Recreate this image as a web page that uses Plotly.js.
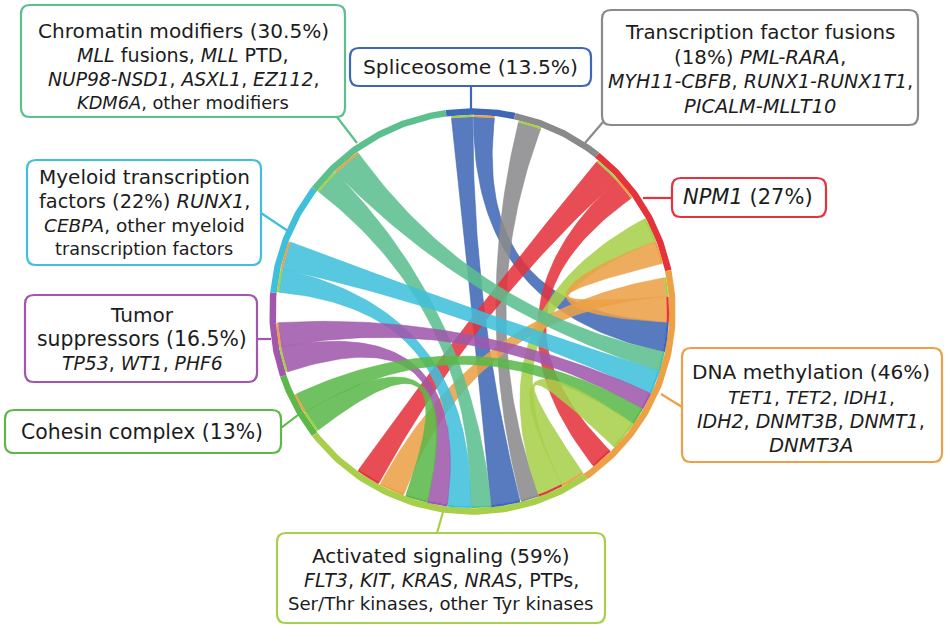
<!DOCTYPE html>
<html>
<head>
<meta charset="utf-8">
<script src="https://cdn.plot.ly/plotly-3.0.1.min.js"></script>
<style>
html,body{margin:0;padding:0;background:#fff;}
#chart{width:946px;height:630px;}
</style>
</head>
<body>
<div id="chart"></div>
<script>
// ---- data ----
var categories = ["Spliceosome", "Transcription factor fusions", "NPM1", "DNA methylation",
  "Activated signaling", "Cohesin complex", "Tumor suppressors", "Myeloid transcription factors", "Chromatin modifiers"];
var percents = [13.5, 18, 27, 46, 59, 13, 16.5, 22, 30.5];
var colors = ["#3f67b7", "#8a8a8c", "#e5333c", "#eca146", "#a8cf4a", "#5bb849", "#a057ac", "#3fbfdb", "#5cbf8e"];

// links: ends given as offsets (in % units) within each category's arc
var linkFrom      = [0, 0, 1, 2, 2, 4, 3, 3, 8, 8, 7, 7, 6, 6, 5, 5, 4];
var linkFromStart = [0.95, 5.4, 1.0, 0.75, 6.2, 4.85, 5.05, 1.25, 5.3, 0.15, 4.9, 0.2, 5.7, 0.5, 4.65, 0.2, 0.0];
var linkFromEnd   = [5.25, 9.6, 5.65, 6.2, 10.85, 9.95, 10.2, 5.05, 11.3, 5.3, 10.55, 4.9, 10.55, 5.7, 8.7, 4.65, 4.85];
var linkTo        = [4, 3, 4, 4, 3, 2, 2, 4, 3, 4, 3, 4, 3, 4, 3, 4, 3];
var linkToStart   = [13.85, 10.2, 9.95, 42.95, 39.0, 15.75, 20.75, 37.45, 16.2, 19.7, 20.1, 23.8, 24.9, 28.5, 28.4, 32.55, 31.9];
var linkToEnd     = [19.7, 16.15, 13.65, 47.8, 43.5, 20.75, 25.35, 42.6, 20.1, 23.8, 24.9, 28.5, 28.4, 32.55, 31.9, 37.05, 37.9];

// ---- geometry ----
var CX = 472.5, CY = 311.5;
var R_RING = 200, RING_W = 6.5, R_MARK = 195.5, R_RIB = 194.5;
var START = -7.6;
var total = percents.reduce(function(a, b){ return a + b; }, 0);
var degPer = 360 / total;
var cum = [];
(function(){ var c = 0; for (var i = 0; i < percents.length; i++){ cum.push(c); c += percents[i]; } })();

function ang(cat, off){ return START + (cum[cat] + off) * degPer; }
function pt(theta, r){ var t = theta * Math.PI / 180; return [CX + r * Math.sin(t), CY - r * Math.cos(t)]; }
function arc(t1, t2, r, n){
  var xs = [], ys = [];
  for (var i = 0; i <= n; i++){ var p = pt(t1 + (t2 - t1) * i / n, r); xs.push(p[0]); ys.push(p[1]); }
  return [xs, ys];
}
function bez(p0, p2, n){
  var xs = [], ys = [];
  for (var i = 0; i <= n; i++){
    var t = i / n, a = (1 - t) * (1 - t), b = 2 * (1 - t) * t, c = t * t;
    xs.push(a * p0[0] + b * CX + c * p2[0]);
    ys.push(a * p0[1] + b * CY + c * p2[1]);
  }
  return [xs, ys];
}
function hexA(h, a){
  var r = parseInt(h.substr(1,2),16), g = parseInt(h.substr(3,2),16), b = parseInt(h.substr(5,2),16);
  return "rgba(" + r + "," + g + "," + b + "," + a + ")";
}

var traces = [];

// ribbons
for (var k = 0; k < linkFrom.length; k++){
  var a1 = ang(linkFrom[k], linkFromStart[k]), a2 = ang(linkFrom[k], linkFromEnd[k]);
  var b1 = ang(linkTo[k], linkToStart[k]), b2 = ang(linkTo[k], linkToEnd[k]);
  var s1 = arc(a1, a2, R_RIB, 20);
  var s2 = bez(pt(a2, R_RIB), pt(b1, R_RIB), 60);
  var s3 = arc(b1, b2, R_RIB, 20);
  var s4 = bez(pt(b2, R_RIB), pt(a1, R_RIB), 60);
  var xs = [].concat(s1[0], s2[0], s3[0], s4[0]);
  var ys = [].concat(s1[1], s2[1], s3[1], s4[1]);
  var col = colors[linkFrom[k]];
  traces.push({type: "scatter", mode: "lines", x: xs, y: ys, fill: "toself",
    fillcolor: hexA(col, 0.87), line: {color: hexA(col, 0.95), width: 0.6},
    hoverinfo: "skip", showlegend: false});
}

// ring segments
for (var i = 0; i < categories.length; i++){
  var s = arc(ang(i, 0), ang(i, percents[i]), R_RING, 60);
  traces.push({type: "scatter", mode: "lines", x: s[0], y: s[1],
    line: {color: colors[i], width: RING_W}, hoverinfo: "skip", showlegend: false});
}

// partner marks at ribbon ends
for (var k2 = 0; k2 < linkFrom.length; k2++){
  var m1 = arc(ang(linkFrom[k2], linkFromStart[k2]), ang(linkFrom[k2], linkFromEnd[k2]), R_MARK, 12);
  traces.push({type: "scatter", mode: "lines", x: m1[0], y: m1[1],
    line: {color: colors[linkTo[k2]], width: 2.2}, hoverinfo: "skip", showlegend: false});
  var m2 = arc(ang(linkTo[k2], linkToStart[k2]), ang(linkTo[k2], linkToEnd[k2]), R_MARK, 12);
  traces.push({type: "scatter", mode: "lines", x: m2[0], y: m2[1],
    line: {color: colors[linkFrom[k2]], width: 2.2}, hoverinfo: "skip", showlegend: false});
}

// ---- label boxes ----
var boxes = [
  {cat: 8, x0: 21, y0: 5, x1: 345, y1: 117, lines: ["Chromatin modifiers (30.5%)", "<i>MLL</i> fusions, <i>MLL</i> PTD,", "<i>NUP98-NSD1</i>, <i>ASXL1</i>, <i>EZ112</i>,", "<i>KDM6A</i>, other modifiers"], fs: [20.1, 19.1, 18.7, 17.8], cx: 183, ly: [31, 55, 79, 102], conn: [337, 117, 357, 143]},
  {cat: 0, x0: 350, y0: 48, x1: 591, y1: 86, lines: ["Spliceosome (13.5%)"], fs: [20.3], cx: 470.5, ly: [67], conn: [471, 86, 471, 109]},
  {cat: 1, x0: 602, y0: 10, x1: 918, y1: 125, lines: ["Transcription factor fusions", "(18%) <i>PML-RARA</i>,", "<i>MYH11-CBFB</i>, <i>RUNX1-RUNX1T1</i>,", "<i>PICALM-MLLT10</i>"], fs: [19.9, 19.8, 19.0, 19.4], cx: 760, ly: [32, 57, 81, 106], conn: [603, 122, 585, 143]},
  {cat: 2, x0: 672, y0: 178, x1: 826, y1: 217, lines: ["<i>NPM1</i> (27%)"], fs: [21.0], cx: 748, ly: [197], conn: [643, 198, 672, 198]},
  {cat: 3, x0: 682, y0: 348, x1: 942, y1: 462, lines: ["DNA methylation (46%)", "<i>TET1</i>, <i>TET2</i>, <i>IDH1</i>,", "<i>IDH2</i>, <i>DNMT3B</i>, <i>DNMT1</i>,", "<i>DNMT3A</i>"], fs: [20.1, 18.5, 19.0, 19.6], cx: 811, ly: [372, 397, 421, 445], conn: [661, 394, 682, 407]},
  {cat: 4, x0: 277, y0: 533, x1: 605, y1: 623, lines: ["Activated signaling (59%)", "<i>FLT3</i>, <i>KIT</i>, <i>KRAS</i>, <i>NRAS</i>, PTPs,", "Ser/Thr kinases, other Tyr kinases"], fs: [20.0, 19.0, 18.1], cx: 441, ly: [556, 580, 603], conn: [443, 512, 437, 533]},
  {cat: 7, x0: 27, y0: 160, x1: 261, y1: 265, lines: ["Myeloid transcription", "factors (22%) <i>RUNX1</i>,", "<i>CEBPA</i>, other myeloid", "transcription factors"], fs: [20.0, 19.4, 18.5, 17.6], cx: 144, ly: [177, 201, 225, 249], conn: [261, 213, 288, 231]},
  {cat: 6, x0: 25, y0: 295, x1: 257, y1: 382, lines: ["Tumor", "suppressors (16.5%)", "<i>TP53</i>, <i>WT1</i>, <i>PHF6</i>"], fs: [20.1, 20.4, 18.8], cx: 142, ly: [315, 339, 363], conn: [257, 339, 271, 339]},
  {cat: 5, x0: 5, y0: 410, x1: 281, y1: 453, lines: ["Cohesin complex (13%)"], fs: [20.4], cx: 142, ly: [432], conn: [281, 428, 298, 415]}
];

function rrect(x0, y0, x1, y1, r){
  return "M" + (x0 + r) + "," + y0 + " H" + (x1 - r) + " Q" + x1 + "," + y0 + " " + x1 + "," + (y0 + r) +
    " V" + (y1 - r) + " Q" + x1 + "," + y1 + " " + (x1 - r) + "," + y1 + " H" + (x0 + r) +
    " Q" + x0 + "," + y1 + " " + x0 + "," + (y1 - r) + " V" + (y0 + r) + " Q" + x0 + "," + y0 + " " + (x0 + r) + "," + y0 + " Z";
}

var shapes = [], annotations = [];
boxes.forEach(function(b){
  var c = colors[b.cat];
  shapes.push({type: "line", xref: "x", yref: "y", x0: b.conn[0], y0: b.conn[1], x1: b.conn[2], y1: b.conn[3],
    line: {color: c, width: 2.2}, layer: "above"});
  shapes.push({type: "path", xref: "x", yref: "y", path: rrect(b.x0, b.y0, b.x1, b.y1, 9),
    fillcolor: "#ffffff", line: {color: c, width: 2.2}, layer: "above"});
  b.lines.forEach(function(t, j){
    annotations.push({xref: "x", yref: "y", x: b.cx, y: b.ly[j], text: t, showarrow: false,
      xanchor: "center", yanchor: "middle",
      font: {family: "DejaVu Sans, Liberation Sans, Arial, sans-serif", size: b.fs[j], color: "#1c1c1c"}});
  });
});

var layout = {
  width: 946, height: 630,
  margin: {l: 0, r: 0, t: 0, b: 0, pad: 0},
  paper_bgcolor: "#ffffff", plot_bgcolor: "#ffffff",
  xaxis: {range: [0, 946], visible: false, fixedrange: true},
  yaxis: {range: [630, 0], visible: false, fixedrange: true},
  showlegend: false,
  shapes: shapes,
  annotations: annotations
};

Plotly.newPlot("chart", traces, layout, {staticPlot: true, displayModeBar: false});
</script>
</body>
</html>
